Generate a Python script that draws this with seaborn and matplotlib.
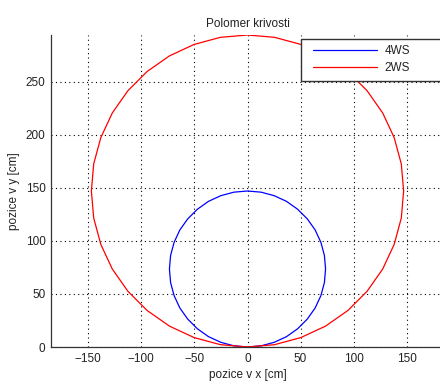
import matplotlib
matplotlib.use("Agg")
import matplotlib.pyplot as plt
from matplotlib.lines import Line2D
from matplotlib.legend_handler import HandlerLine2D
import seaborn as sns
import pandas as pd

# ---- data (trajectory points, cm) ----
x_4ws = [0, 12.8, 25.1, 36.8, 47.2, 56.3, 63.7, 69.1, 72.4, 73.5, 72.4, 69.1, 63.7, 56.3,
         47.2, 36.8, 25.1, 12.8, 0, -12.8, -25.1, -36.8, -47.2, -56.3, -63.7, -69.1, -72.4,
         -73.5, -72.4, -69.1, -63.7, -56.3, -47.2, -36.8, -25.1, -12.8, 0]
y_4ws = [0, 1.1, 4.4, 9.8, 17.2, 26.3, 36.8, 48.4, 60.7, 73.5, 86.3, 98.6, 110.3, 120.7,
         129.8, 137.2, 142.6, 145.9, 147, 145.9, 142.6, 137.2, 129.8, 120.7, 110.3, 98.6, 86.3,
         73.5, 60.7, 48.4, 36.8, 26.3, 17.2, 9.8, 4.4, 1.1, 0]
x_2ws = [0, 25.5, 50.3, 73.5, 94.5, 112.6, 127.3, 138.1, 144.8, 147, 144.8, 138.1, 127.3, 112.6,
         94.5, 73.5, 50.3, 25.5, 0, -25.5, -50.3, -73.5, -94.5, -112.6, -127.3, -138.1, -144.8,
         -147, -144.8, -138.1, -127.3, -112.6, -94.5, -73.5, -50.3, -25.5, 0]
y_2ws = [0, 2.2, 8.9, 19.7, 34.4, 52.5, 73.5, 96.7, 121.5, 147, 172.5, 197.3, 220.5, 241.5,
         259.6, 274.3, 285.1, 291.8, 294, 291.8, 285.1, 274.3, 259.6, 241.5, 220.5, 197.3, 172.5,
         147, 121.5, 96.7, 73.5, 52.5, 34.4, 19.7, 8.9, 2.2, 0]

series_names = ["4WS", "2WS"]
series_colors = ["#0000ff", "#ff0000"]
x_ticks = [-150, -100, -50, 0, 50, 100, 150]
y_ticks = [0, 50, 100, 150, 200, 250]
title = "Polomer krivosti"
x_label = "pozice v x [cm]"
y_label = "pozice v y [cm]"

sns.set_style("white")
plt.rcParams['font.family'] = ['Liberation Sans', 'DejaVu Sans']

W, H = 440, 381
fig = plt.figure(figsize=(W / 100, H / 100), dpi=100)
ax = fig.add_axes([51 / W, (H - 347) / H, 393 / W, 312 / H])

df4 = pd.DataFrame({"x": x_4ws, "y": y_4ws})
df2 = pd.DataFrame({"x": x_2ws, "y": y_2ws})
sns.lineplot(data=df4, x="x", y="y", sort=False, estimator=None, color=series_colors[0],
             lw=0.9, ax=ax, label=series_names[0])
sns.lineplot(data=df2, x="x", y="y", sort=False, estimator=None, color=series_colors[1],
             lw=0.9, ax=ax, label=series_names[1])

ax.set_xlim(-185, 185)
ax.set_ylim(0, 294)
ax.set_xticks(x_ticks)
ax.set_yticks(y_ticks)
ax.grid(True, color="#000000", linestyle=(0, (1, 3)), linewidth=0.8)
for s in ["top", "right"]:
    ax.spines[s].set_visible(False)
for s in ["left", "bottom"]:
    ax.spines[s].set_color("#333333")
    ax.spines[s].set_linewidth(0.9)
ax.tick_params(direction="in", length=4, width=0.7, colors="#333333", labelsize=8.5,
               labelcolor="#222222", pad=4)

ax.set_title(title, fontsize=8.5, color="#222222", pad=6)
ax.set_xlabel(x_label, fontsize=8.5, color="#222222", labelpad=3)
ax.set_ylabel(y_label, fontsize=8.5, color="#222222", labelpad=4)

leg = ax.legend(loc="upper left", bbox_to_anchor=((301 - 51) / 393, (347 - 42) / 312, 0.45, 0.01),
                mode="expand", fontsize=8.5, frameon=True, fancybox=False, framealpha=1,
                edgecolor="#333333", handlelength=5.9, handletextpad=0.6, labelspacing=0.4,
                borderpad=0.55, borderaxespad=0,
                handler_map={Line2D: HandlerLine2D(xpad=0.45)})
leg.get_frame().set_linewidth(1.0)
for t in leg.get_texts():
    t.set_color("#222222")

fig.savefig("out.png", dpi=100)
